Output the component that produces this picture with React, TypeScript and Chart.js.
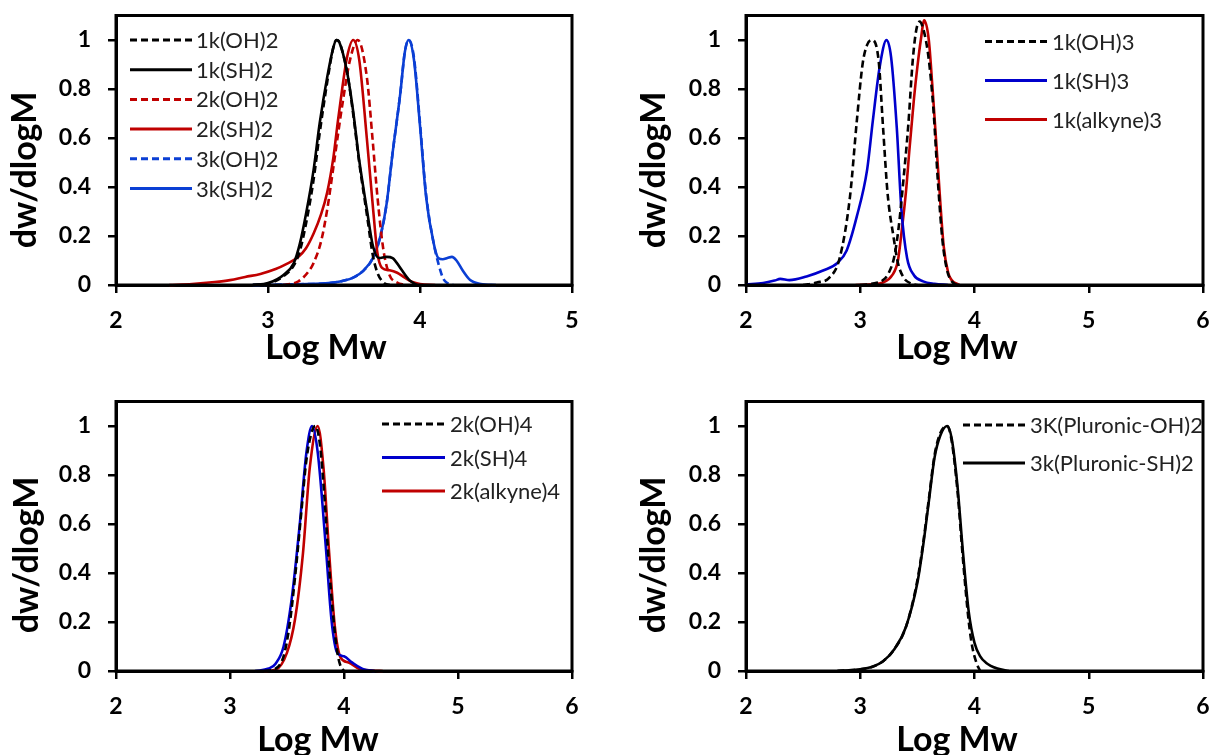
import React, { useEffect, useRef } from "react";
import { Chart, registerables } from "chart.js";

Chart.register(...registerables);

const BLACK = "#000000";
const RED = "#c00000";
const BLUE_A = "#0b3fd4";
const BLUE = "#0000cc";

const yTickValues = [0, 0.2, 0.4, 0.6, 0.8, 1];
const yTickLabels = ["0", "0.2", "0.4", "0.6", "0.8", "1"];
const xTicksA = [2, 3, 4, 5];
const xTicksB = [2, 3, 4, 5, 6];
const xTitle = "Log Mw";
const yTitle = "dw/dlogM";

// ---- Panel A (top-left) ----
const a1kOH2_x = [2.9, 3.0, 3.1, 3.17, 3.21, 3.25, 3.3, 3.34, 3.39, 3.43, 3.45, 3.47, 3.52, 3.56, 3.6, 3.65, 3.69, 3.72, 3.76, 3.8];
const a1kOH2_y = [0, 0.005, 0.035, 0.08, 0.14, 0.25, 0.43, 0.62, 0.83, 0.97, 1.0, 0.99, 0.87, 0.7, 0.5, 0.29, 0.12, 0.05, 0.01, 0];
const a1kSH2_x = [2.9, 3.0, 3.1, 3.17, 3.21, 3.25, 3.3, 3.34, 3.39, 3.43, 3.45, 3.47, 3.52, 3.56, 3.6, 3.65, 3.69, 3.73, 3.78, 3.82, 3.87, 3.93, 3.98];
const a1kSH2_y = [0, 0.008, 0.04, 0.09, 0.17, 0.29, 0.47, 0.66, 0.85, 0.97, 1.0, 0.99, 0.87, 0.71, 0.51, 0.31, 0.16, 0.11, 0.115, 0.11, 0.07, 0.02, 0];
const a2kOH2_x = [3.1, 3.2, 3.26, 3.3, 3.35, 3.39, 3.43, 3.49, 3.54, 3.59, 3.65, 3.69, 3.72, 3.76, 3.8, 3.85, 3.9];
const a2kOH2_y = [0, 0.015, 0.05, 0.09, 0.18, 0.31, 0.48, 0.74, 0.92, 1.0, 0.85, 0.58, 0.36, 0.14, 0.04, 0.01, 0];
const a2kSH2_x = [2.35, 2.5, 2.65, 2.75, 2.85, 2.95, 3.05, 3.12, 3.2, 3.25, 3.3, 3.35, 3.39, 3.43, 3.46, 3.49, 3.52, 3.56, 3.6, 3.65, 3.69, 3.72, 3.75, 3.8, 3.85, 3.9, 3.95, 4.0, 4.1];
const a2kSH2_y = [0, 0.004, 0.012, 0.02, 0.033, 0.045, 0.065, 0.085, 0.115, 0.15, 0.21, 0.29, 0.38, 0.52, 0.67, 0.81, 0.93, 1.0, 0.92, 0.6, 0.32, 0.13, 0.07, 0.06, 0.05, 0.03, 0.012, 0.004, 0];
const a3kOH2_x = [2.9, 3.2, 3.43, 3.56, 3.63, 3.69, 3.74, 3.78, 3.82, 3.87, 3.9, 3.925, 3.96, 4.0, 4.04, 4.09, 4.12, 4.15, 4.18, 4.22];
const a3kOH2_y = [0, 0.003, 0.01, 0.03, 0.06, 0.11, 0.2, 0.33, 0.54, 0.78, 0.95, 1.0, 0.93, 0.66, 0.37, 0.17, 0.09, 0.03, 0.008, 0];
const a3kSH2_x = [2.9, 3.2, 3.43, 3.56, 3.63, 3.69, 3.74, 3.78, 3.82, 3.87, 3.9, 3.925, 3.96, 4.0, 4.04, 4.09, 4.12, 4.15, 4.18, 4.21, 4.24, 4.28, 4.33, 4.4, 4.5];
const a3kSH2_y = [0, 0.003, 0.01, 0.03, 0.06, 0.11, 0.2, 0.33, 0.54, 0.78, 0.95, 1.0, 0.92, 0.65, 0.36, 0.17, 0.11, 0.105, 0.11, 0.115, 0.1, 0.06, 0.02, 0.004, 0];

// ---- Panel B (top-right) ----
const b1kOH3_x = [2.5, 2.62, 2.73, 2.82, 2.91, 2.97, 3.02, 3.06, 3.1, 3.16, 3.2, 3.24, 3.29, 3.33, 3.38, 3.45, 3.5];
const b1kOH3_y = [0, 0.01, 0.03, 0.11, 0.36, 0.67, 0.9, 0.98, 1.0, 0.92, 0.64, 0.37, 0.2, 0.09, 0.03, 0.005, 0];
const b1kOH3b_x = [3.0, 3.1, 3.2, 3.25, 3.3, 3.34, 3.37, 3.42, 3.46, 3.49, 3.52, 3.56, 3.6, 3.64, 3.68, 3.72, 3.76, 3.8, 3.85];
const b1kOH3b_y = [0, 0.005, 0.02, 0.05, 0.12, 0.25, 0.39, 0.65, 0.92, 1.04, 1.075, 1.03, 0.92, 0.72, 0.42, 0.18, 0.06, 0.015, 0];
const b1kSH3_x = [2.0, 2.15, 2.25, 2.3, 2.38, 2.53, 2.68, 2.8, 2.88, 2.97, 3.06, 3.11, 3.17, 3.23, 3.27, 3.32, 3.36, 3.41, 3.47, 3.55, 3.65, 3.77];
const b1kSH3_y = [0.003, 0.008, 0.018, 0.025, 0.02, 0.035, 0.06, 0.09, 0.14, 0.28, 0.47, 0.67, 0.89, 1.0, 0.93, 0.64, 0.31, 0.11, 0.04, 0.015, 0.005, 0];
const b1kAlk3_x = [2.96, 3.1, 3.2, 3.28, 3.33, 3.36, 3.4, 3.43, 3.47, 3.5, 3.53, 3.56, 3.6, 3.63, 3.68, 3.73, 3.77, 3.8, 3.87];
const b1kAlk3_y = [0, 0.003, 0.01, 0.04, 0.1, 0.21, 0.38, 0.55, 0.76, 0.89, 1.0, 1.08, 1.0, 0.82, 0.48, 0.16, 0.05, 0.02, 0];

// ---- Panel C (bottom-left) ----
const c2kOH4_x = [3.3, 3.4, 3.47, 3.52, 3.57, 3.62, 3.67, 3.72, 3.75, 3.79, 3.83, 3.87, 3.9, 3.94, 3.97, 4.0];
const c2kOH4_y = [0, 0.01, 0.06, 0.18, 0.38, 0.62, 0.86, 0.98, 1.0, 0.92, 0.7, 0.42, 0.25, 0.08, 0.02, 0];
const c2kSH4_x = [3.22, 3.34, 3.4, 3.47, 3.54, 3.61, 3.67, 3.72, 3.77, 3.84, 3.89, 3.94, 4.0, 4.07, 4.17, 4.27];
const c2kSH4_y = [0, 0.01, 0.03, 0.1, 0.29, 0.59, 0.89, 1.0, 0.89, 0.51, 0.21, 0.075, 0.06, 0.035, 0.007, 0];
const c2kAlk4_x = [3.3, 3.4, 3.5, 3.57, 3.64, 3.7, 3.77, 3.82, 3.87, 3.92, 3.97, 4.04, 4.14, 4.25, 4.34];
const c2kAlk4_y = [0, 0.005, 0.075, 0.21, 0.48, 0.83, 1.0, 0.83, 0.48, 0.18, 0.055, 0.035, 0.007, 0.002, 0];

// ---- Panel D (bottom-right) ----
const d3kPOH2_x = [2.8, 3.0, 3.1, 3.2, 3.3, 3.4, 3.5, 3.55, 3.6, 3.65, 3.7, 3.76, 3.8, 3.85, 3.9, 3.95, 3.98, 4.02, 4.05];
const d3kPOH2_y = [0, 0.007, 0.016, 0.04, 0.09, 0.18, 0.37, 0.52, 0.7, 0.88, 0.97, 1.0, 0.94, 0.74, 0.45, 0.2, 0.1, 0.03, 0];
const d3kPSH2_x = [2.8, 3.0, 3.1, 3.2, 3.3, 3.4, 3.5, 3.55, 3.6, 3.65, 3.7, 3.76, 3.8, 3.85, 3.9, 3.95, 4.0, 4.05, 4.1, 4.2, 4.3];
const d3kPSH2_y = [0, 0.007, 0.016, 0.04, 0.09, 0.18, 0.36, 0.51, 0.69, 0.87, 0.96, 1.0, 0.95, 0.76, 0.48, 0.24, 0.115, 0.06, 0.034, 0.01, 0];

type Series = { label: string; xs: number[]; ys: number[]; color: string; dashed: boolean; legend: boolean };
type Rect = { x: number; y: number; w: number; h: number };
type PanelSpec = {
  canvas: Rect;
  plot: { l: number; r: number; t: number; b: number };
  xMax: number;
  xTicks: number[];
  series: Series[];
  legend: { x1: number; x2: number; tx: number; y0: number; dy: number };
  xTitlePos: { x: number; y: number };
  yTitlePos: { x: number; y: number };
};

const S = (label: string, xs: number[], ys: number[], color: string, dashed: boolean, legend = true): Series => ({ label, xs, ys, color, dashed, legend });

const panels: PanelSpec[] = [
  {
    canvas: { x: 0, y: 0, w: 606, h: 377 },
    plot: { l: 116, r: 572, t: 15.5, b: 285 },
    xMax: 5,
    xTicks: xTicksA,
    series: [
      S("1k(OH)2", a1kOH2_x, a1kOH2_y, BLACK, true),
      S("1k(SH)2", a1kSH2_x, a1kSH2_y, BLACK, false),
      S("2k(OH)2", a2kOH2_x, a2kOH2_y, RED, true),
      S("2k(SH)2", a2kSH2_x, a2kSH2_y, RED, false),
      S("3k(OH)2", a3kOH2_x, a3kOH2_y, BLUE_A, true),
      S("3k(SH)2", a3kSH2_x, a3kSH2_y, BLUE_A, false),
    ],
    legend: { x1: 130, x2: 192, tx: 196, y0: 40, dy: 29.7 },
    xTitlePos: { x: 326, y: 359 },
    yTitlePos: { x: 36, y: 170 },
  },
  {
    canvas: { x: 606, y: 0, w: 607, h: 377 },
    plot: { l: 746, r: 1203, t: 15.5, b: 285 },
    xMax: 6,
    xTicks: xTicksB,
    series: [
      S("1k(OH)3", b1kOH3_x, b1kOH3_y, BLACK, true),
      S("1k(OH)3", b1kOH3b_x, b1kOH3b_y, BLACK, true, false),
      S("1k(SH)3", b1kSH3_x, b1kSH3_y, BLUE, false),
      S("1k(alkyne)3", b1kAlk3_x, b1kAlk3_y, RED, false),
    ],
    legend: { x1: 985, x2: 1047, tx: 1052, y0: 41.5, dy: 39 },
    xTitlePos: { x: 957, y: 359 },
    yTitlePos: { x: 665, y: 170 },
  },
  {
    canvas: { x: 0, y: 377, w: 606, h: 378 },
    plot: { l: 116, r: 572, t: 401.5, b: 671 },
    xMax: 6,
    xTicks: xTicksB,
    series: [
      S("2k(OH)4", c2kOH4_x, c2kOH4_y, BLACK, true),
      S("2k(SH)4", c2kSH4_x, c2kSH4_y, BLUE, false),
      S("2k(alkyne)4", c2kAlk4_x, c2kAlk4_y, RED, false),
    ],
    legend: { x1: 382, x2: 445, tx: 450, y0: 424, dy: 33.5 },
    xTitlePos: { x: 318, y: 751 },
    yTitlePos: { x: 38, y: 555 },
  },
  {
    canvas: { x: 606, y: 377, w: 607, h: 378 },
    plot: { l: 746, r: 1203, t: 401.5, b: 671 },
    xMax: 6,
    xTicks: xTicksB,
    series: [
      S("3K(Pluronic-OH)2", d3kPOH2_x, d3kPOH2_y, BLACK, true),
      S("3k(Pluronic-SH)2", d3kPSH2_x, d3kPSH2_y, BLACK, false),
    ],
    legend: { x1: 963, x2: 1025, tx: 1030, y0: 425, dy: 38 },
    xTitlePos: { x: 957, y: 751 },
    yTitlePos: { x: 665, y: 555 },
  },
];

const FONT = "Lato, 'Open Sans', sans-serif";
const DASH = [7, 4];

function buildConfig(spec: PanelSpec): any {
  const c = spec.canvas;
  const p = spec.plot;
  const yAxisWidth = p.l - c.x;
  const xAxisHeight = c.y + c.h - p.b;
  const padTop = p.t - c.y;
  const padRight = c.x + c.w - p.r;

  const decor = {
    id: "decor",
    afterDraw(chart: any) {
      const ctx = chart.ctx as CanvasRenderingContext2D;
      const a = chart.chartArea;
      ctx.save();
      ctx.setLineDash([]);
      ctx.strokeStyle = "#000";
      ctx.lineWidth = 3;
      ctx.strokeRect(a.left, a.top, a.right - a.left, a.bottom - a.top);
      const lg = spec.legend;
      let row = 0;
      ctx.font = `22px ${FONT}`;
      ctx.textBaseline = "middle";
      ctx.textAlign = "left";
      spec.series.forEach((s) => {
        if (!s.legend) return;
        const y = lg.y0 + row * lg.dy - c.y;
        ctx.beginPath();
        ctx.setLineDash(s.dashed ? DASH : []);
        ctx.strokeStyle = s.color;
        ctx.lineWidth = 3;
        ctx.moveTo(lg.x1 - c.x, y);
        ctx.lineTo(lg.x2 - c.x, y);
        ctx.stroke();
        ctx.setLineDash([]);
        ctx.fillStyle = "#222";
        ctx.fillText(s.label, lg.tx - c.x, y + 1);
        row++;
      });
      ctx.fillStyle = "#000";
      ctx.font = `bold 34px ${FONT}`;
      ctx.textAlign = "center";
      ctx.textBaseline = "alphabetic";
      ctx.fillText(xTitle, spec.xTitlePos.x - c.x, spec.xTitlePos.y - c.y);
      ctx.translate(spec.yTitlePos.x - c.x, spec.yTitlePos.y - c.y);
      ctx.rotate(-Math.PI / 2);
      ctx.fillText(yTitle, 0, 0);
      ctx.restore();
    },
  };

  return {
    type: "line",
    data: {
      datasets: spec.series.map((s) => ({
        label: s.label,
        data: s.xs.map((x, i) => ({ x, y: s.ys[i] })),
        borderColor: s.color,
        backgroundColor: s.color,
        borderWidth: 2.6,
        borderDash: s.dashed ? DASH : [],
        pointRadius: 0,
        cubicInterpolationMode: "monotone",
        fill: false,
        clip: 4,
      })),
    },
    options: {
      animation: false,
      responsive: false,
      events: [],
      layout: { padding: { top: padTop, right: padRight, left: 0, bottom: 0 } },
      plugins: { legend: { display: false }, tooltip: { enabled: false }, title: { display: false } },
      scales: {
        x: {
          type: "linear",
          min: 2,
          max: spec.xMax,
          afterBuildTicks: (s: any) => {
            s.ticks = spec.xTicks.map((v) => ({ value: v }));
          },
          afterFit: (s: any) => {
            s.height = xAxisHeight;
            s.paddingLeft = 0;
            s.paddingRight = 0;
          },
          ticks: {
            autoSkip: false,
            maxRotation: 0,
            padding: 14,
            color: "#000",
            font: { family: FONT, size: 23, weight: "bold" },
            callback: (v: number) => String(v),
          },
          grid: { display: true, drawOnChartArea: false, drawTicks: true, tickLength: 8, color: "#000", lineWidth: 2.5 },
          border: { display: true, color: "#000", width: 3 },
        },
        y: {
          type: "linear",
          min: 0,
          max: 1.1,
          afterBuildTicks: (s: any) => {
            s.ticks = yTickValues.map((v) => ({ value: v }));
          },
          afterFit: (s: any) => {
            s.width = yAxisWidth;
            s.paddingTop = 0;
            s.paddingBottom = 0;
          },
          ticks: {
            padding: 17,
            color: "#000",
            font: { family: FONT, size: 23, weight: "bold" },
            callback: (_v: number, i: number) => yTickLabels[i],
          },
          grid: { display: true, drawOnChartArea: false, drawTicks: true, tickLength: 8, color: "#000", lineWidth: 2.5 },
          border: { display: true, color: "#000", width: 3 },
        },
      },
    },
    plugins: [decor],
  };
}

function Panel({ spec }: { spec: PanelSpec }) {
  const ref = useRef<HTMLCanvasElement>(null);
  useEffect(() => {
    if (!ref.current) return;
    const chart = new Chart(ref.current, buildConfig(spec));
    return () => chart.destroy();
  }, [spec]);
  const c = spec.canvas;
  return (
    <canvas
      ref={ref}
      width={c.w}
      height={c.h}
      style={{ position: "absolute", left: c.x, top: c.y, width: c.w, height: c.h }}
    />
  );
}

export default function App() {
  return (
    <div style={{ position: "fixed", left: 0, top: 0, width: 1213, height: 755, background: "#fff", overflow: "hidden" }}>
      {panels.map((p, i) => (
        <Panel key={i} spec={p} />
      ))}
    </div>
  );
}
